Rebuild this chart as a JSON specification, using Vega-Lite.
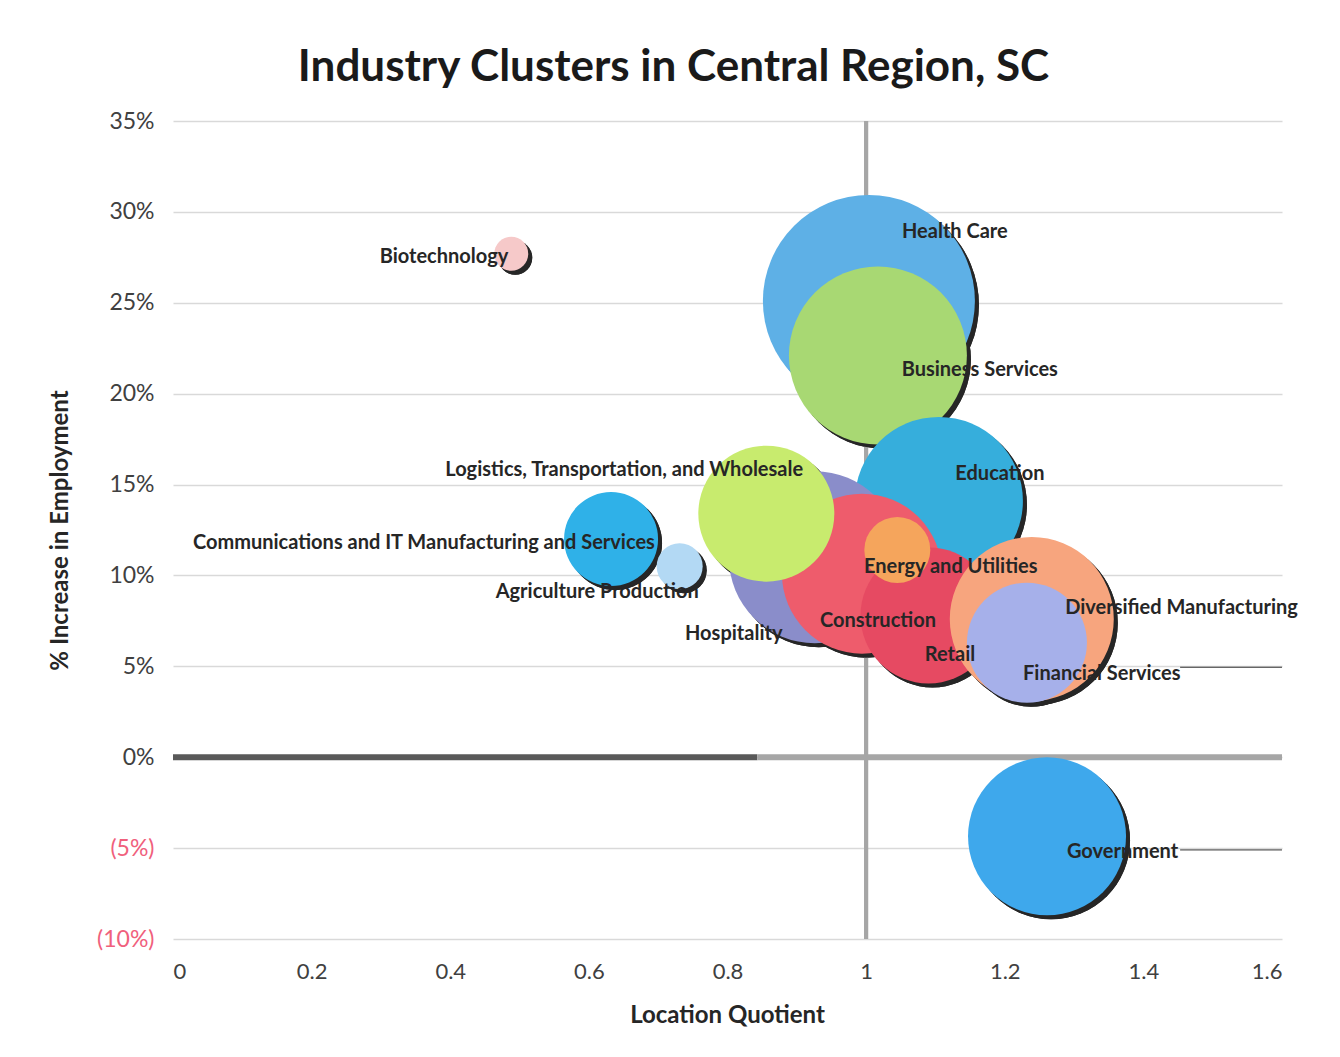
{
  "$schema": "https://vega.github.io/schema/vega-lite/v6.json",
  "width": 1109,
  "height": 818,
  "autosize": {"type": "none"},
  "padding": {"left": 173, "top": 121, "right": 58, "bottom": 118},
  "background": "white",
  "config": {"view": {"stroke": null}, "font": "Lato"},
  "title": {
    "text": "Industry Clusters in Central Region, SC",
    "font": "Lato",
    "fontSize": 44,
    "fontWeight": "bold",
    "color": "#1a1a1a",
    "anchor": "middle",
    "frame": "group",
    "dx": -54,
    "dy": 58,
    "baseline": "alphabetic",
    "offset": 43
  },
  "datasets": {
    "clusters": [
      {"cluster": "Health Care", "lq": 1.004, "growth": 0.251, "emp": 11236, "label_lq": 1.128, "label_growth": 0.289},
      {"cluster": "Business Services", "lq": 1.017, "growth": 0.221, "emp": 7921, "label_lq": 1.164, "label_growth": 0.213},
      {"cluster": "Education", "lq": 1.105, "growth": 0.141, "emp": 7056, "label_lq": 1.193, "label_growth": 0.156},
      {"cluster": "Hospitality", "lq": 0.926, "growth": 0.110, "emp": 7396, "label_lq": 0.809, "label_growth": 0.068},
      {"cluster": "Construction", "lq": 0.994, "growth": 0.101, "emp": 6400, "label_lq": 1.017, "label_growth": 0.075},
      {"cluster": "Retail", "lq": 1.090, "growth": 0.078, "emp": 4624, "label_lq": 1.121, "label_growth": 0.056},
      {"cluster": "Logistics, Transportation, and Wholesale", "lq": 0.856, "growth": 0.134, "emp": 4624, "label_lq": 0.651, "label_growth": 0.158},
      {"cluster": "Energy and Utilities", "lq": 1.045, "growth": 0.114, "emp": 1089, "label_lq": 1.122, "label_growth": 0.1045},
      {"cluster": "Diversified Manufacturing", "lq": 1.239, "growth": 0.076, "emp": 6724, "label_lq": 1.455, "label_growth": 0.082},
      {"cluster": "Financial Services", "lq": 1.232, "growth": 0.063, "emp": 3600, "label_lq": 1.340, "label_growth": 0.046},
      {"cluster": "Communications and IT Manufacturing and Services", "lq": 0.632, "growth": 0.120, "emp": 2209, "label_lq": 0.362, "label_growth": 0.118},
      {"cluster": "Agriculture Production", "lq": 0.731, "growth": 0.105, "emp": 529, "label_lq": 0.612, "label_growth": 0.091},
      {"cluster": "Biotechnology", "lq": 0.488, "growth": 0.277, "emp": 289, "label_lq": 0.391, "label_growth": 0.275},
      {"cluster": "Government", "lq": 1.261, "growth": -0.0435, "emp": 6241, "label_lq": 1.370, "label_growth": -0.052}
    ],
    "leaders": [
      {"from": 1.453, "to": 1.6, "level": 0.0495},
      {"from": 1.453, "to": 1.6, "level": -0.051}
    ],
    "crosshair": [
      {"lq_from": 0, "lq_to": 0.843, "lq_mid": 1, "g": 0, "tone": "dark"},
      {"lq_from": 0.843, "lq_to": 1.6, "lq_mid": 1, "g": 0, "tone": "light"}
    ]
  },
  "resolve": {"scale": {"x": "shared", "y": "shared"}},
  "layer": [
    {
      "data": {"name": "clusters"},
      "mark": {"type": "circle", "color": "#262626", "opacity": 1, "xOffset": 4, "yOffset": 4},
      "encoding": {
        "x": {"field": "lq", "type": "quantitative",
          "scale": {"domain": [0, 1.6], "nice": false, "zero": false},
          "axis": {
            "values": [0, 0.2, 0.4, 0.6, 0.8, 1, 1.2, 1.4, 1.6],
            "format": "~g",
            "title": "Location Quotient",
            "grid": false, "domain": false, "ticks": false,
            "labelFont": "Lato", "labelFontSize": 22, "labelColor": "#404040",
            "labelPadding": 22,
            "titleFont": "Lato", "titleFontSize": 24, "titleFontWeight": "bold", "titleColor": "#262626",
            "titleX": 554, "titleY": 76, "titleBaseline": "middle"
          }
        },
        "y": {"field": "growth", "type": "quantitative",
          "scale": {"domain": [-0.1, 0.35], "nice": false, "zero": false},
          "axis": {
            "values": [-0.1, -0.05, 0, 0.05, 0.1, 0.15, 0.2, 0.25, 0.3, 0.35],
            "labelExpr": "datum.value < 0 ? '(' + format(-datum.value, '.0%') + ')' : format(datum.value, '.0%')",
            "labelColor": {"condition": {"test": "datum.value < 0", "value": "#f0607c"}, "value": "#404040"},
            "title": "% Increase in Employment",
            "grid": true, "gridColor": "#d9d9d9", "gridWidth": 1.5,
            "domain": false, "ticks": false,
            "labelFont": "Lato", "labelFontSize": 23, "labelPadding": 19,
            "titleFont": "Lato", "titleFontSize": 24, "titleFontWeight": "bold", "titleColor": "#262626",
            "titleX": -113, "titleY": 409, "titleAngle": -90, "titleBaseline": "middle", "titleAlign": "center"
          }
        },
        "size": {"field": "emp", "type": "quantitative", "scale": {"type": "linear", "domain": [0, 10000], "range": [0, 40000], "zero": true}, "legend": null}
      }
    },
    {
      "data": {"name": "crosshair"},
      "mark": {"type": "rule", "color": "#a6a6a6", "strokeWidth": 4},
      "encoding": {
        "x": {"field": "lq_mid", "type": "quantitative"}
      }
    },
    {
      "data": {"name": "crosshair"},
      "mark": {"type": "rule", "strokeWidth": 6},
      "encoding": {
        "x": {"field": "lq_from", "type": "quantitative"},
        "x2": {"field": "lq_to"},
        "y": {"field": "g", "type": "quantitative"},
        "color": {"field": "tone", "type": "nominal", "legend": null, "scale": {"domain": ["dark", "light"], "range": ["#595959", "#a6a6a6"]}}
      }
    },
    {
      "data": {"name": "leaders"},
      "mark": {"type": "rule", "color": "#333333", "strokeWidth": 1},
      "encoding": {
        "x": {"field": "from", "type": "quantitative"},
        "x2": {"field": "to"},
        "y": {"field": "level", "type": "quantitative"}
      }
    },
    {
      "data": {"name": "clusters"},
      "mark": {"type": "circle", "color": "#262626", "opacity": 1, "xOffset": 4, "yOffset": 4},
      "encoding": {
        "x": {"field": "lq", "type": "quantitative"},
        "y": {"field": "growth", "type": "quantitative"},
        "size": {"field": "emp", "type": "quantitative", "legend": null}
      }
    },
    {
      "data": {"name": "clusters"},
      "mark": {"type": "circle", "opacity": 1},
      "encoding": {
        "x": {"field": "lq", "type": "quantitative"},
        "y": {"field": "growth", "type": "quantitative"},
        "size": {"field": "emp", "type": "quantitative", "legend": null},
        "fill": {
          "field": "cluster", "type": "nominal", "legend": null,
          "scale": {
            "domain": ["Health Care", "Business Services", "Education", "Hospitality", "Construction", "Retail", "Logistics, Transportation, and Wholesale", "Energy and Utilities", "Diversified Manufacturing", "Financial Services", "Communications and IT Manufacturing and Services", "Agriculture Production", "Biotechnology", "Government"],
            "range": ["#5eb0e6", "#a8d873", "#36aedc", "#8a8dca", "#ee5c6c", "#e64a62", "#c8eb6e", "#f5a55c", "#f7a57e", "#a6b0ea", "#2fb1e8", "#b3d9f4", "#f6c9c9", "#3ea8ec"]
          }
        }
      }
    },
    {
      "data": {"name": "clusters"},
      "mark": {"type": "text", "font": "Lato", "fontSize": 20, "fontWeight": "bold", "color": "#262626", "align": "center", "baseline": "middle", "clip": false},
      "encoding": {
        "x": {"field": "label_lq", "type": "quantitative"},
        "y": {"field": "label_growth", "type": "quantitative"},
        "text": {"field": "cluster"}
      }
    }
  ]
}
